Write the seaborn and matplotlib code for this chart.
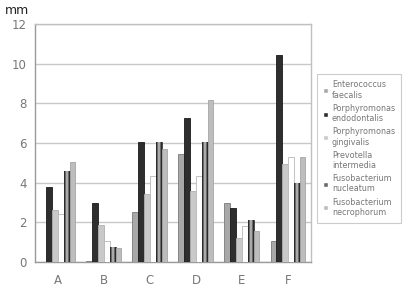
import numpy as np
import pandas as pd
import matplotlib
matplotlib.use("Agg")
import matplotlib.pyplot as plt
import seaborn as sns

categories = ["A", "B", "C", "D", "E", "F"]
series_names = [
    "Enterococcus\nfaecalis",
    "Porphyromonas\nendodontalis",
    "Porphyromonas\ngingivalis",
    "Prevotella\nintermedia",
    "Fusobacterium\nnucleatum",
    "Fusobacterium\nnecrophorum",
]
enterococcus_faecalis = [0.0, 0.05, 2.5, 5.45, 2.95, 1.05]
porphyromonas_endodontalis = [3.8, 2.95, 6.05, 7.25, 2.7, 10.45]
porphyromonas_gingivalis = [2.6, 1.85, 3.45, 3.6, 1.2, 4.95]
prevotella_intermedia = [2.4, 1.05, 4.35, 4.35, 1.8, 5.3]
fusobacterium_nucleatum = [4.6, 0.75, 6.05, 6.05, 2.1, 4.0]
fusobacterium_necrophorum = [5.05, 0.7, 5.7, 8.15, 1.55, 5.3]
y_ticks = [0, 2, 4, 6, 8, 10, 12]

values = [enterococcus_faecalis, porphyromonas_endodontalis, porphyromonas_gingivalis,
          prevotella_intermedia, fusobacterium_nucleatum, fusobacterium_necrophorum]
rows = []
for name, vals in zip(series_names, values):
    for c, v in zip(categories, vals):
        rows.append({"cat": c, "series": name, "value": v})
df = pd.DataFrame(rows)

colors = ["#a8a8a8", "#2e2e2e", "#c9c9c9", "#ffffff", "#6a6a6a", "#bdbdbd"]
edges = ["#7a7a7a", "#1a1a1a", "#b0b0b0", "#b8b8b8", "#3a3a3a", "#a5a5a5"]

sns.set_style("white")
plt.rcParams['font.family'] = ['DejaVu Sans']

fig = plt.figure(figsize=(4.06, 2.92), dpi=100)
ax = fig.add_axes([0.086, 0.103, 0.68, 0.815])

sns.barplot(data=df, x="cat", y="value", hue="series", order=categories,
            hue_order=series_names, palette=colors, width=0.76,
            ax=ax, legend=True, zorder=3)

grad = np.abs(np.linspace(-1, 1, 64))[None, :]
for i, cont in enumerate(ax.containers):
    for p in cont:
        p.set_edgecolor(edges[i])
        p.set_linewidth(0.6)
        if i == 4:
            x0, y0 = p.get_x(), p.get_y()
            w, h = p.get_width(), p.get_height()
            im = ax.imshow(grad, cmap="gray_r", vmin=-0.25, vmax=1.05,
                           extent=[x0, x0 + w, y0, y0 + h], aspect="auto",
                           zorder=3.5, interpolation="bilinear")
            im.set_clip_path(p)

ax.set_xlim(-0.5, 5.5)
ax.set_ylim(0, 12)
ax.set_yticks(y_ticks)
ax.set_yticklabels([str(t) for t in y_ticks], color="#777777", fontsize=8.5)
ax.set_xticklabels(categories, color="#777777", fontsize=8.5)
ax.tick_params(axis="both", length=0, pad=6)
ax.tick_params(axis="x", pad=9)
ax.set_xlabel("")
ax.set_ylabel("")
ax.yaxis.grid(True, color="#c8c8c8", linewidth=1.0, zorder=0)
ax.set_axisbelow(True)
for s in ax.spines.values():
    s.set_color("#c0c0c0")
    s.set_linewidth(1.0)
ax.spines["left"].set_color("#9a9a9a")
ax.spines["bottom"].set_color("#9a9a9a")

fig.text(0.012, 0.965, "mm", fontsize=9, color="#222222", va="center")

leg = ax.legend(loc="upper left", bbox_to_anchor=(1.02, 0.79), frameon=True,
                fontsize=5.8, handlelength=0.6, handleheight=0.6,
                labelspacing=0.5, borderpad=0.8, handletextpad=0.5,
                fancybox=False, borderaxespad=0)
leg.get_frame().set_edgecolor("#c0c0c0")
leg.get_frame().set_linewidth(0.8)
for t in leg.get_texts():
    t.set_color("#777777")

fig.savefig("out.png", dpi=100)
